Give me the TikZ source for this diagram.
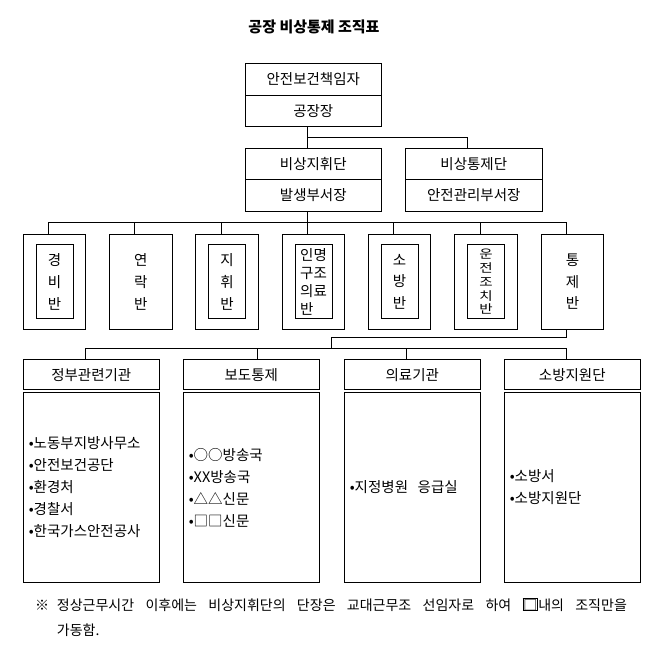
\documentclass[tikz,border=0pt]{standalone}
\usepackage{fontspec}
\setmainfont{Noto Sans CJK KR}
\usetikzlibrary{positioning}
\tikzset{
  box/.style={draw,line width=1pt,inner sep=0pt,outer sep=0pt,align=center,
              font=\fontsize{14.5}{16}\selectfont},
  post/.style={box,minimum width=136.5pt,minimum height=31.6pt},
  unit/.style={box,minimum width=62.4pt,minimum height=95pt,
               font=\fontsize{14.5}{21.7}\selectfont},
  inbox/.style={unit,minimum width=37pt,minimum height=74.3pt},
  head/.style={box,minimum width=136pt,minimum height=30.7pt},
  body/.style={box,minimum width=136pt,minimum height=190.4pt,text width=125pt,
               align=left,inner xsep=5.5pt,font=\fontsize{14.5}{22}\selectfont},
  link/.style={line width=1pt},
  ttl/.style={font=\fontsize{15}{17}\selectfont\bfseries},
  note/.style={inner sep=0pt,font=\fontsize{14}{25}\selectfont,align=left},
}

\begin{document}
\begin{tikzpicture}[x=1pt,y=-1pt]
  \useasboundingbox (0,0) rectangle (665,657);
  \node[ttl] (title) at (314,27) {공장 비상통제 조직표};

  % top level
  \node[post,minimum height=32.4pt] (boss1) at (313.3,79.5) {안전보건책임자};
  \node[post,minimum height=31pt] (boss2) at (313.3,111.2) {공장장};
  \node[post,minimum height=31pt] (cmd1) at (313.3,163.8) {비상지휘단};
  \node[post] (cmd2) at (313.3,195.2) {발생부서장};
  \node[post,minimum height=31pt] (ctl1) at (473.8,163.8) {비상통제단};
  \node[post] (ctl2) at (473.8,195.2) {안전관리부서장};

  \draw[link] ([xshift=-6pt]boss2.south) -- ([xshift=-6pt]cmd1.north);
  \draw[link] ([xshift=-6pt]boss2.south) ++(0,10.6) -| ([xshift=-6pt]ctl1.north);

  % teams
  \foreach \i/\x in {1/54.5,2/140.8,3/227,4/313.5,5/399.5,6/486,7/572.5}
    \node[unit] (u\i) at (\x,281.8) {};
  \node[inbox] (in1) at (u1) {경\\비\\반};
  \node[unit,draw=none] (t2) at (u2) {연\\락\\반};
  \node[inbox] (in3) at (u3) {지\\휘\\반};
  \node[inbox,align=left,font=\fontsize{14.5}{18.2}\selectfont] (in4) at (u4) {인명\\구조\\의료\\반};
  \node[inbox] (in5) at (u5) {소\\방\\반};
  \node[inbox] (in6) at (u6) {};
  \node[inner sep=0pt,align=center,yscale=0.82,transform shape,
        font=\fontsize{14.5}{16.8}\selectfont] (t6) at (in6) {운\\전\\조\\치\\반};
  \node[unit,draw=none] (t7) at (u7) {통\\제\\반};

  \path ([xshift=-6pt]cmd2.south) ++(0,11) coordinate (bus);
  \draw[link] ([xshift=-6pt]cmd2.south) -- (bus);
  \foreach \i in {1,...,7}
    \draw[link] ([xshift=-6pt]u\i.north) |- (bus);

  % outside bodies
  \foreach \i/\x/\t in {1/91.3/정부관련기관,2/251.3/보도통제,3/412.3/의료기관,4/572.3/소방지원단}
    \node[head] (h\i) at (\x,374.6) {\t};
  \node[body] (b1) at (91.3,487.5) {•노동부지방사무소\\•안전보건공단\\•환경처\\•경찰서\\•한국가스안전공사};
  \node[body] (b2) at (251.3,487.5) {•○○방송국\\•XX방송국\\•△△신문\\•□□신문};
  \node[body] (b3) at (412.3,487.5) {•지정병원\ \ 응급실};
  \node[body] (b4) at (572.3,487.5) {•소방서\\•소방지원단};

  \path ([xshift=-6pt]u7.south) ++(0,8.4) coordinate (turn);
  \path (turn) ++(-234.8,10.6) coordinate (bus2);
  \draw[link] ([xshift=-6pt]u7.south) -- (turn) -| (bus2);
  \foreach \i/\s in {1/-6,2/6,3/-6,4/-6}
    \draw[link] ([xshift=\s pt]h\i.north) |- (bus2);

  % footnote
  \node[note,anchor=base west] (mark) at (35,610) {※};
  \node[note,anchor=base west] (foot) at (56.7,635)
    {\makebox[570pt][s]{정상근무시간 이후에는 비상지휘단의 단장은 교대근무조 선임자로 하여 {\fboxsep=0pt\fboxrule=0.8pt\fbox{□}}내의 조직만을}\\가동함.};
\end{tikzpicture}
\end{document}
